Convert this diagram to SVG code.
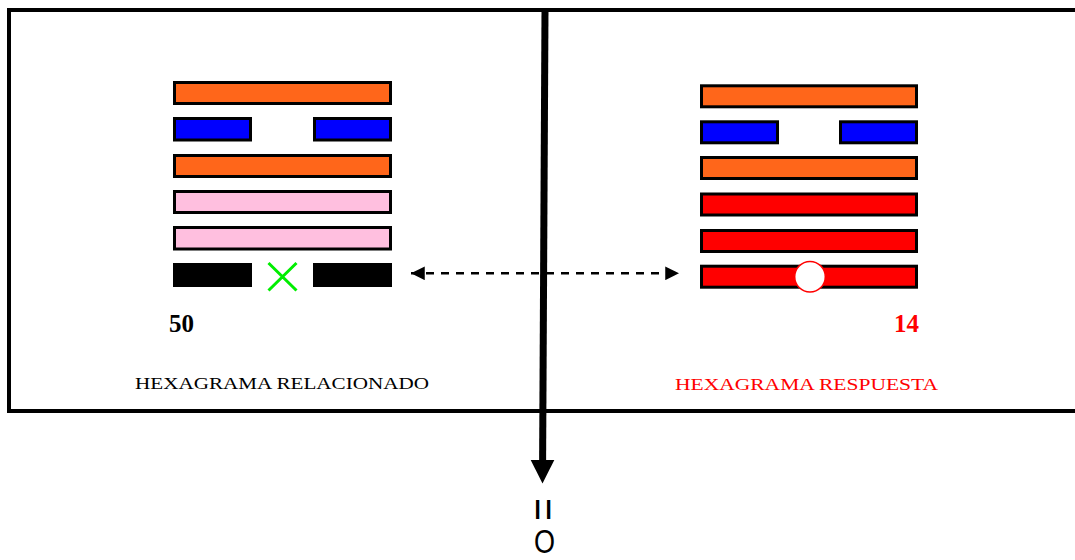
<svg xmlns="http://www.w3.org/2000/svg" width="1075" height="560" viewBox="0 0 1075 560">
  <defs>
    <style>
      .bar { stroke: #000; stroke-width: 3; }
      .orange { fill: #ff661a; }
      .blue { fill: #0000ff; }
      .pink { fill: #ffbfdf; }
      .red { fill: #ff0000; }
      .label { font-family: "Liberation Serif", "Times New Roman", serif; font-size: 17.5px; }
      .num { font-family: "Liberation Serif", "Times New Roman", serif; font-size: 25px; font-weight: bold; }
    </style>
    <marker id="dashHead" viewBox="0 0 10 10" refX="10" refY="5" markerWidth="6" markerHeight="5.5" orient="auto-start-reverse" markerUnits="strokeWidth">
      <path d="M0,0 L10,5 L0,10 z" fill="#000"/>
    </marker>
  </defs>
  <rect width="1075" height="560" fill="#fff"/>

  <g id="frame">
    <rect x="9" y="10" width="1085" height="401" fill="none" stroke="#000" stroke-width="4"/>
  </g>

  <g id="hexagrama-relacionado">
    <rect class="bar orange" x="174.5" y="82.5" width="216" height="21"/>
    <rect class="bar blue" x="174.5" y="118.5" width="76" height="21.5"/>
    <rect class="bar blue" x="314.5" y="118.5" width="76" height="21.5"/>
    <rect class="bar orange" x="174.5" y="155.5" width="216" height="21"/>
    <rect class="bar pink" x="174.5" y="191.5" width="216" height="21"/>
    <rect class="bar pink" x="174.5" y="227.5" width="216" height="21.5"/>
    <rect x="173" y="263" width="79" height="24" fill="#000"/>
    <rect x="313" y="263" width="79" height="24" fill="#000"/>
    <path d="M268.5,263 L296.5,290.5 M296.5,263 L268.5,290.5" stroke="#00ee00" stroke-width="3" fill="none"/>
    <text class="num" x="169" y="332" fill="#000">50</text>
    <text class="label" x="135" y="389" fill="#000" textLength="294" lengthAdjust="spacingAndGlyphs">HEXAGRAMA RELACIONADO</text>
  </g>

  <g id="hexagrama-respuesta">
    <rect class="bar orange" x="701.5" y="85.8" width="215" height="21"/>
    <rect class="bar blue" x="701.5" y="121.8" width="76" height="21"/>
    <rect class="bar blue" x="840.5" y="121.8" width="76" height="21"/>
    <rect class="bar orange" x="701.5" y="157.5" width="215" height="21"/>
    <rect class="bar red" x="701.5" y="194" width="215" height="21"/>
    <rect class="bar red" x="701.5" y="230.5" width="215" height="21"/>
    <rect class="bar red" x="701.5" y="266.2" width="215" height="21"/>
    <circle cx="810" cy="276.7" r="15.3" fill="#fff" stroke="#ff0000" stroke-width="1.5"/>
    <text class="num" x="894" y="332" fill="#ff0000">14</text>
    <text class="label" x="675" y="389.5" fill="#ff0000" textLength="263" lengthAdjust="spacingAndGlyphs">HEXAGRAMA RESPUESTA</text>
  </g>

  <g id="connectors">
    <line x1="545" y1="10" x2="542.6" y2="462" stroke="#000" stroke-width="7"/>
    <path d="M530.7,460 L554.3,460 L542.5,483.5 z" fill="#000"/>
    <line x1="411" y1="273.3" x2="679" y2="273.3" stroke="#000" stroke-width="2.5" stroke-dasharray="8 7" marker-start="url(#dashHead)" marker-end="url(#dashHead)"/>
  </g>

  <g id="result">
    <text x="543" y="509.5" transform="rotate(90 543 509.5)" font-family="Liberation Sans, Arial, sans-serif" font-size="44" text-anchor="middle" dominant-baseline="central" fill="#000" textLength="23" lengthAdjust="spacingAndGlyphs">=</text>
    <text x="544.5" y="552.5" font-family="Liberation Sans, Arial, sans-serif" font-size="33" text-anchor="middle" fill="#000" textLength="21" lengthAdjust="spacingAndGlyphs">O</text>
  </g>
</svg>
